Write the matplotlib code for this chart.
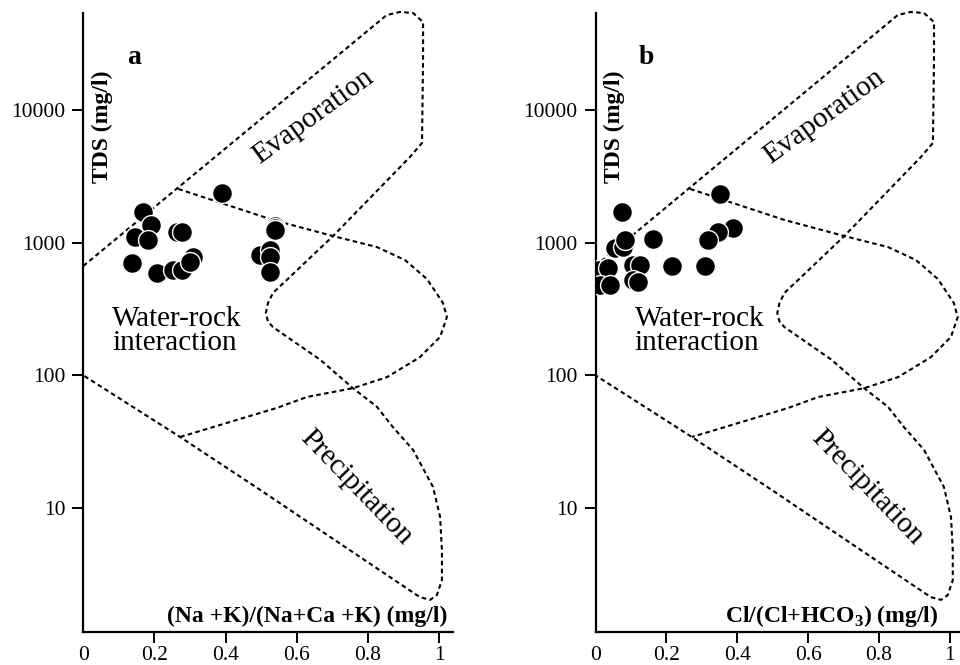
import matplotlib
matplotlib.use("Agg")
import matplotlib.pyplot as plt
import numpy as np

plt.rcParams['font.family'] = ['Liberation Serif', 'DejaVu Serif']
plt.rcParams['mathtext.fontset'] = 'custom'
plt.rcParams['mathtext.rm'] = 'Liberation Serif'
plt.rcParams['mathtext.bf'] = 'Liberation Serif:bold'

# ---- data: panel a (Na+K)/(Na+Ca+K) vs TDS ----
a_ratio = [0.540, 0.540, 0.389, 0.167, 0.189, 0.145, 0.183, 0.263, 0.277, 0.136,
           0.206, 0.252, 0.277, 0.309, 0.300, 0.539, 0.539, 0.497, 0.525, 0.525, 0.525]
a_tds = [1335, 1290, 2355, 1710, 1358, 1109, 1047, 1211, 1211, 706,
         594, 622, 622, 776, 715, 1247, 1247, 807, 881, 780, 604]

# ---- data: panel b Cl/(Cl+HCO3) vs TDS ----
b_ratio = [0.351, 0.074, 0.389, 0.346, 0.318, 0.163, 0.055, 0.078, 0.083, 0.106,
           0.126, 0.215, 0.309, 0.008, 0.036, 0.013, 0.041, 0.106, 0.121]
b_tds = [2330, 1710, 1282, 1211, 1047, 1059, 908, 934, 1047, 680,
         680, 667, 667, 622, 641, 480, 480, 524, 508]

# ---- Gibbs boundary curves (ratio, TDS) ----
outer_x = [0.0, 0.853, 0.890, 0.927, 0.955, 0.955, 0.952, 0.918, 0.702, 0.572,
           0.533, 0.519, 0.513, 0.519, 0.533, 0.666, 0.758, 0.825, 0.870, 0.927,
           0.983, 1.003, 1.008, 1.008, 0.994, 0.975, 0.946, 0.778, 0.497, 0.272, 0.0]
outer_tds = [667, 52000, 54800, 53800, 46000, 23800, 5640, 4420, 1122, 524,
             418, 350, 295, 255, 231, 131, 80, 58, 40.8, 27.4,
             14.4, 8.55, 4.82, 2.86, 2.21, 2.03, 2.13, 4.27, 13.7, 34.3, 100]
inner_x = [0.267, 0.533, 0.702, 0.825, 0.904, 0.966, 1.011, 1.022, 1.003, 0.946,
           0.854, 0.758, 0.629, 0.544, 0.272]
inner_tds = [2540, 1483, 1122, 927, 740, 532, 351, 275, 195, 137,
             97, 80, 68.7, 56.8, 34.3]

y_ticks = [10, 100, 1000, 10000]
y_labels = ['10', '100', '1000', '10000']
x_ticks = [0, 0.2, 0.4, 0.6, 0.8, 1.0]
x_labels = ['0', '0.2', '0.4', '0.6', '0.8', '1']

W, H = 960, 665
fig = plt.figure(figsize=(W / 100, H / 100), dpi=100)
ax_a = fig.add_axes([83.3 / W, 33 / H, 370 / W, 619 / H])
ax_b = fig.add_axes([595.5 / W, 33 / H, 364 / W, 619 / H])


def style(ax, xmax, letter, xlabel, xlabel_x, xs, ys, wr_x):
    ax.set_yscale('log')
    ax.set_xlim(0, xmax)
    ax.set_ylim(10 ** 0.0654, 10 ** 4.731)
    for s in ['top', 'right']:
        ax.spines[s].set_visible(False)
    for s in ['left', 'bottom']:
        ax.spines[s].set_linewidth(1.6)
    ax.set_yticks(y_ticks)
    ax.set_yticklabels(y_labels)
    ax.yaxis.set_minor_locator(matplotlib.ticker.NullLocator())
    ax.set_xticks(x_ticks)
    ax.set_xticklabels(x_labels)
    ax.tick_params(axis='both', direction='out', length=8, width=1.4,
                   labelsize=15.5)
    ax.tick_params(axis='y', pad=5)
    ax.tick_params(axis='x', pad=2)
    ax.xaxis.get_major_ticks()[0].tick1line.set_visible(False)

    ax.plot(outer_x, outer_tds, color='black', lw=1.5, ls=(0, (2.2, 1.6)),
            clip_on=False)
    ax.plot(inner_x, inner_tds, color='black', lw=1.5, ls=(0, (2.2, 1.6)),
            clip_on=False)

    ax.scatter(xs, ys, s=205, c='black', edgecolors='white', linewidths=1.0,
               zorder=3)

    ax.text(0.143, 25000, letter, fontsize=20, fontweight='bold',
            ha='center', va='center')
    ax.text(0.053, 7450, 'TDS (mg/l)', fontsize=17, fontweight='bold',
            rotation=90, ha='center', va='center')
    ax.text(0.646, 8860, 'Evaporation', fontsize=21, rotation=36,
            ha='center', va='center')
    ax.text(wr_x, 216, 'Water-rock\ninteraction', fontsize=21,
            ha='left', va='center', linespacing=0.9)
    ax.text(0.767, 14.4, 'Precipitation', fontsize=21, rotation=-46,
            ha='center', va='center')
    ax.text(xlabel_x, 1.53, xlabel, fontsize=17, fontweight='bold',
            ha='right', va='center')


style(ax_a, 1.04, 'a', '(Na +K)/(Na+Ca +K) (mg/l)', 1.022, a_ratio, a_tds, 0.081)
style(ax_b, 1.027, 'b', r'Cl/(Cl+HCO$_\mathbf{3}$) (mg/l)', 0.966, b_ratio, b_tds, 0.111)

fig.savefig('out.png', dpi=100)
